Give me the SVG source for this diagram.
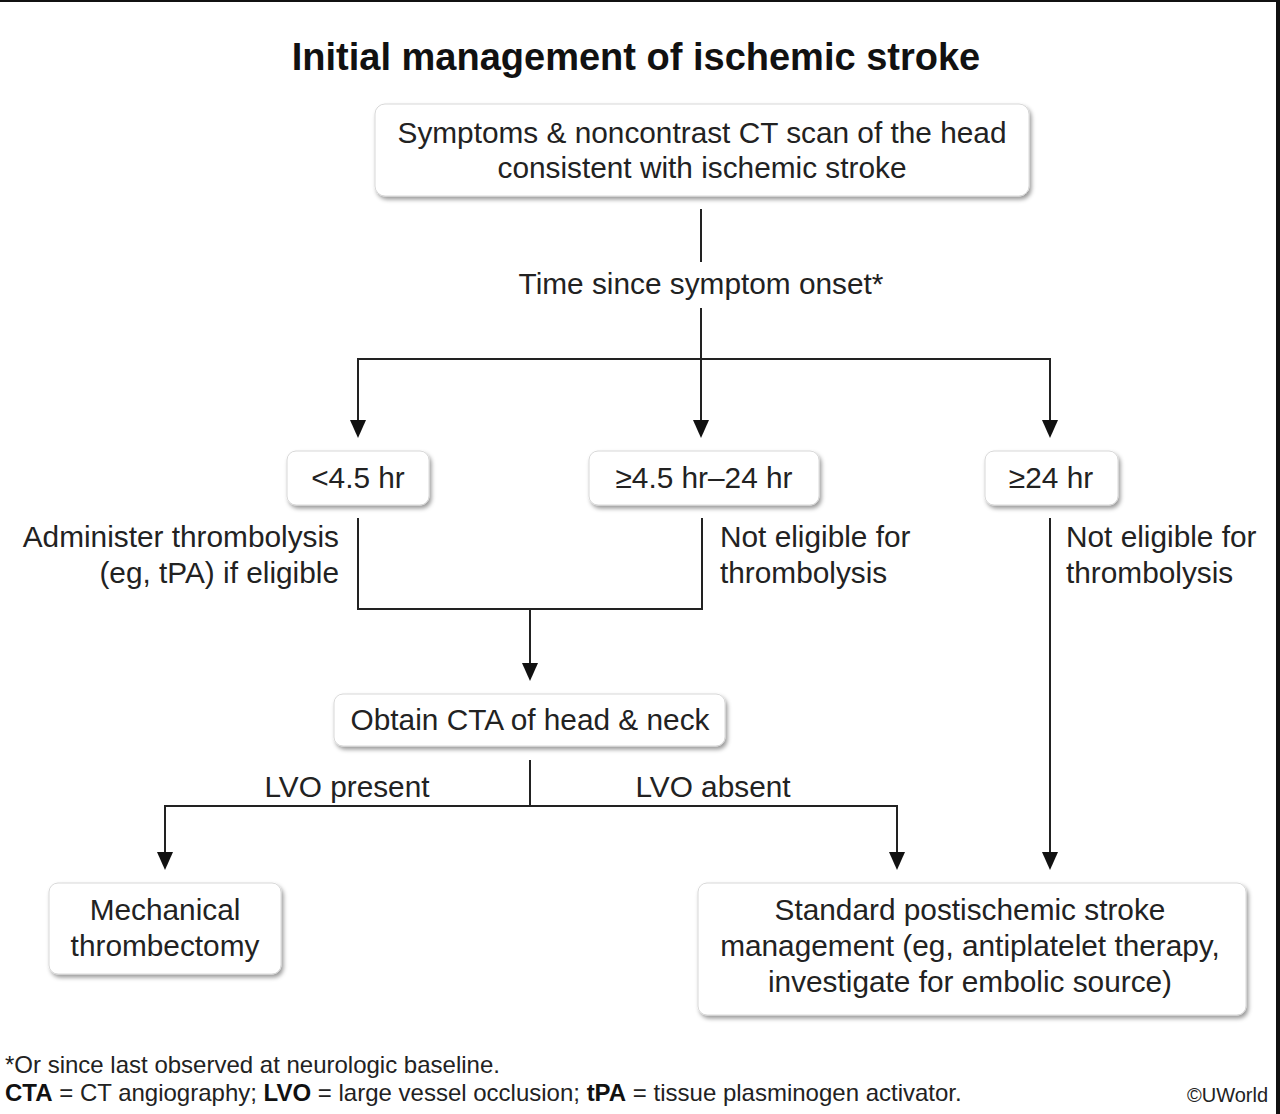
<svg xmlns="http://www.w3.org/2000/svg" width="1280" height="1114" viewBox="0 0 1280 1114">
<defs>
<style>
text{font-family:"Liberation Sans",Arial,Helvetica,sans-serif;fill:#222;}
.t{font-size:29.8px;}
.c{text-anchor:middle;}
.e{text-anchor:end;}
.title{font-size:38px;font-weight:bold;text-anchor:middle;fill:#111;}
.foot{font-size:24px;}
.box{fill:#fff;stroke:#d8d8d8;stroke-width:1;filter:url(#sh);}
.ln{fill:none;stroke:#222;stroke-width:2;}
.ar{marker-end:url(#arr);}
</style>
<filter id="sh" x="-10%" y="-20%" width="125%" height="150%">
<feDropShadow dx="2" dy="3" stdDeviation="2.2" flood-color="#000" flood-opacity="0.4"/>
</filter>
<marker id="arr" viewBox="0 0 18 16" markerWidth="18" markerHeight="16" refX="14" refY="8" orient="auto" markerUnits="userSpaceOnUse">
<path d="M0,0 L18,8 L0,16 z" fill="#111"/>
</marker>
</defs>
<rect x="0" y="0" width="1280" height="1114" fill="#fff"/>
<rect x="0" y="0" width="1280" height="2" fill="#111"/>
<rect x="1276" y="0" width="4" height="1114" fill="#111"/>
<text class="title" x="636" y="70">Initial management of ischemic stroke</text>

<g id="connectors">
<path class="ln" d="M701,209 V262"/>
<path class="ln ar" d="M701,308 V434"/>
<path class="ln" d="M358,359 H1050"/>
<path class="ln ar" d="M358,358 V434"/>
<path class="ln ar" d="M1050,358 V434"/>
<path class="ln" d="M358,518 V609 H702 V518"/>
<path class="ln ar" d="M530,609 V677"/>
<path class="ln" d="M530,760 V806"/>
<path class="ln ar" d="M164,806 H897 V866"/>
<path class="ln ar" d="M165,805 V866"/>
<path class="ln ar" d="M1050,518 V866"/>
</g>

<g id="lbl-time"><text class="t c" x="701" y="294">Time since symptom onset*</text></g>
<g id="lbl-admin"><text class="t e" x="339" y="547">Administer thrombolysis</text><text class="t e" x="339" y="583">(eg, tPA) if eligible</text></g>
<g id="lbl-noelig1"><text class="t" x="720" y="547">Not eligible for</text><text class="t" x="720" y="583">thrombolysis</text></g>
<g id="lbl-noelig2"><text class="t" x="1066" y="547">Not eligible for</text><text class="t" x="1066" y="583">thrombolysis</text></g>
<g id="lbl-lvop"><text class="t c" x="347" y="797">LVO present</text></g>
<g id="lbl-lvoa"><text class="t c" x="713" y="797">LVO absent</text></g>

<g id="n-symptoms">
<rect class="box" x="375" y="104" width="654" height="92" rx="10"/>
<text class="t c" x="702" y="143">Symptoms &amp; noncontrast CT scan of the head</text>
<text class="t c" x="702" y="178">consistent with ischemic stroke</text>
</g>
<g id="n-lt45">
<rect class="box" x="287" y="451" width="142" height="54" rx="9"/>
<text class="t c" x="358" y="488">&lt;4.5 hr</text>
</g>
<g id="n-45to24">
<rect class="box" x="589" y="451" width="230" height="54" rx="9"/>
<text class="t c" x="704" y="488">≥4.5 hr–24 hr</text>
</g>
<g id="n-ge24">
<rect class="box" x="985" y="451" width="133" height="54" rx="9"/>
<text class="t c" x="1051" y="488">≥24 hr</text>
</g>
<g id="n-cta">
<rect class="box" x="334" y="694" width="391" height="52" rx="9"/>
<text class="t c" x="530" y="730">Obtain CTA of head &amp; neck</text>
</g>
<g id="n-mech">
<rect class="box" x="49" y="883" width="232" height="91" rx="9"/>
<text class="t c" x="165" y="920">Mechanical</text>
<text class="t c" x="165" y="956">thrombectomy</text>
</g>
<g id="n-standard">
<rect class="box" x="698" y="883" width="548" height="132" rx="9"/>
<text class="t c" x="970" y="920">Standard postischemic stroke</text>
<text class="t c" x="970" y="956">management (eg, antiplatelet therapy,</text>
<text class="t c" x="970" y="992">investigate for embolic source)</text>
</g>

<g id="footer">
<text class="foot" x="5" y="1073">*Or since last observed at neurologic baseline.</text>
<text class="foot" x="5" y="1101"><tspan font-weight="bold" fill="#111">CTA</tspan> = CT angiography; <tspan font-weight="bold" fill="#111">LVO</tspan> = large vessel occlusion; <tspan font-weight="bold" fill="#111">tPA</tspan> = tissue plasminogen activator.</text>
<text x="1268" y="1102" font-size="20" text-anchor="end">©UWorld</text>
</g>
</svg>
